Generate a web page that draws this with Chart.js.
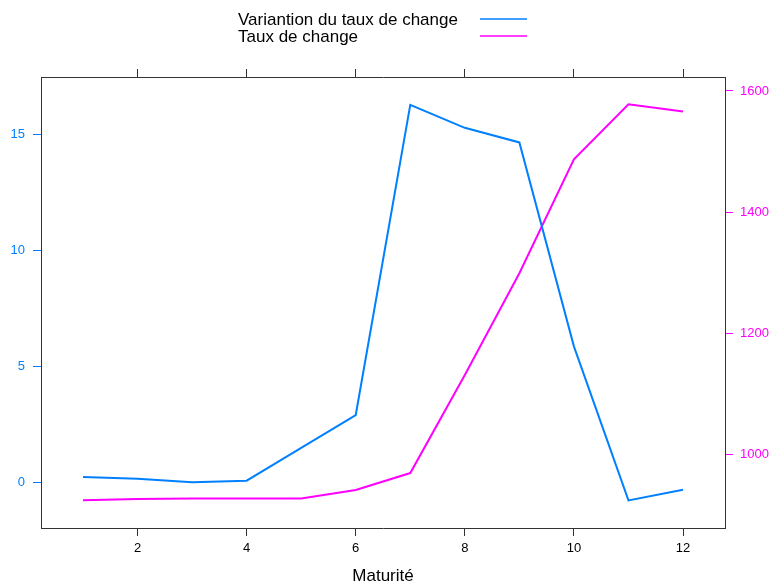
<!DOCTYPE html>
<html>
<head>
<meta charset="utf-8">
<script src="https://cdn.jsdelivr.net/npm/chart.js@4/dist/chart.umd.min.js"></script>
<style>
  html, body { margin: 0; padding: 0; background: #fff; }
  #wrap { width: 774px; height: 585px; }
</style>
</head>
<body>
<div id="wrap"><canvas id="maturiteGrafica" width="774" height="585"></canvas></div>
<script>
var maturite = [1, 2, 3, 4, 5, 6, 7, 8, 9, 10, 11, 12];
var variation = [0.22, 0.14, -0.01, 0.06, 1.47, 2.89, 16.26, 15.27, 14.64, 5.85, -0.79, -0.33];
var tauxChange = [924, 926, 927, 927, 927, 941, 969, 1131, 1299, 1487, 1578, 1566];
var xTicks = [2, 4, 6, 8, 10, 12];
var yTicksGauche = [0, 5, 10, 15];
var yTicksDroite = [1000, 1200, 1400, 1600];

var bleu = '#0080ff';
var magenta = '#ff00ff';
var police = '"Liberation Sans", Arial, sans-serif';

function points(ys) {
    return maturite.map(function (x, i) { return { x: x, y: ys[i] }; });
}
function fixerTicks(valeurs) {
    return function (scale) {
        scale.ticks = valeurs.map(function (v) { return { value: v }; });
    };
}
// pas de separateur de milliers
function texteBrut(v) { return String(v); }

// legende a la lattice : texte a gauche, trait a droite
var legendePlugin = {
    id: 'legendeLattice',
    afterDraw: function (chart) {
        var c = chart.ctx;
        c.save();
        c.font = '17px ' + police;
        c.textBaseline = 'middle';
        c.textAlign = 'left';
        chart.data.datasets.forEach(function (ds, i) {
            var y = 20 + i * 17;
            c.fillStyle = '#000';
            c.fillText(ds.label, 238, y);
            c.strokeStyle = ds.borderColor;
            c.lineWidth = 1.5;
            c.beginPath();
            c.moveTo(480, y - 1);
            c.lineTo(527, y - 1);
            c.stroke();
        });
        c.restore();
    }
};

var ctx = document.getElementById('maturiteGrafica').getContext('2d');
var grafica = new Chart(ctx, {
    type: 'line',
    data: {
        datasets: [{
            label: 'Variantion du taux de change',
            data: points(variation),
            borderColor: bleu,
            borderWidth: 2,
            pointRadius: 0,
            tension: 0,
            yAxisID: 'y'
        }, {
            label: 'Taux de change',
            data: points(tauxChange),
            borderColor: magenta,
            borderWidth: 2,
            pointRadius: 0,
            tension: 0,
            yAxisID: 'y1'
        }]
    },
    options: {
        responsive: false,
        animation: false,
        layout: { padding: { top: 69, left: 0, right: 0, bottom: 0 } },
        plugins: {
            legend: { display: false },
            tooltip: { enabled: false }
        },
        scales: {
            x: {
                type: 'linear',
                position: 'bottom',
                min: 0.23,
                max: 12.77,
                afterBuildTicks: fixerTicks(xTicks),
                afterFit: function (s) { s.height = 57; },
                grid: { drawOnChartArea: false, tickLength: 8, tickColor: '#333' },
                border: { display: true, color: '#333', width: 1 },
                ticks: { color: '#000', padding: 5, maxRotation: 0, callback: texteBrut, font: { family: police, size: 13 } },
                title: {
                    display: true,
                    text: 'Maturité',
                    color: '#000',
                    padding: 0,
                    font: { family: police, size: 17, lineHeight: 1 }
                }
            },
            xHaut: {
                type: 'linear',
                position: 'top',
                min: 0.23,
                max: 12.77,
                afterBuildTicks: fixerTicks(xTicks),
                afterFit: function (s) { s.height = 8; },
                grid: { drawOnChartArea: false, tickLength: 8, tickColor: '#333' },
                border: { display: true, color: '#333', width: 1 },
                ticks: { display: false }
            },
            y: {
                type: 'linear',
                position: 'left',
                min: -1.98,
                max: 17.46,
                afterBuildTicks: fixerTicks(yTicksGauche),
                afterFit: function (s) { s.width = 41; },
                grid: { drawOnChartArea: false, tickLength: 8, tickColor: bleu },
                border: { display: true, color: '#333', width: 1 },
                ticks: { color: bleu, padding: 8, callback: texteBrut, font: { family: police, size: 13 } }
            },
            y1: {
                type: 'linear',
                position: 'right',
                min: 878.3,
                max: 1623.1,
                afterBuildTicks: fixerTicks(yTicksDroite),
                afterFit: function (s) { s.width = 49; },
                grid: { drawOnChartArea: false, tickLength: 8, tickColor: magenta },
                border: { display: true, color: '#333', width: 1 },
                ticks: { color: magenta, padding: 7, callback: texteBrut, font: { family: police, size: 13 } }
            }
        }
    },
    plugins: [legendePlugin]
});
</script>
</body>
</html>
